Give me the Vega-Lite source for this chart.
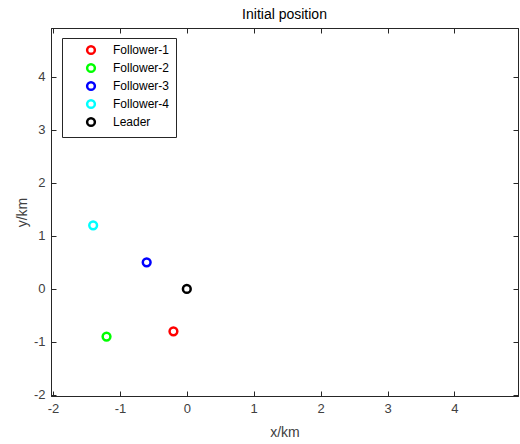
{
  "$schema": "https://vega.github.io/schema/vega-lite/v6.json",
  "width": 467,
  "height": 368,
  "autosize": {"type": "none"},
  "padding": {"left": 51, "top": 28, "right": 2, "bottom": 48},
  "background": "white",
  "config": {
    "font": "Liberation Sans",
    "view": {"stroke": "#262626", "strokeWidth": 1},
    "axis": {"grid": false, "domainColor": "#262626", "tickColor": "#262626", "labelColor": "#404040", "titleColor": "#404040", "labelFontSize": 13, "titleFontSize": 14, "titleFontWeight": "normal", "tickSize": -5, "labelPadding": 11, "domainWidth": 1, "labelExpr": "replace(datum.label, '−', '-')"}
  },
  "title": {"text": "Initial position", "fontSize": 14, "fontWeight": "normal", "color": "#000000", "offset": 6, "font": "Liberation Sans"},
  "data": {"values": [
    {"name": "Follower-1", "x": -0.2, "y": -0.8},
    {"name": "Follower-2", "x": -1.2, "y": -0.9},
    {"name": "Follower-3", "x": -0.6, "y": 0.5},
    {"name": "Follower-4", "x": -1.4, "y": 1.2},
    {"name": "Leader", "x": 0, "y": 0}
  ]},
  "layer": [
    {
      "mark": {"type": "point", "shape": "circle", "filled": false, "strokeWidth": 2.5, "size": 60, "opacity": 1},
      "encoding": {
        "x": {"field": "x", "type": "quantitative", "scale": {"domain": [-2.03, 4.95], "nice": false, "zero": false}, "axis": {"orient": "bottom", "title": "x/km", "values": [-2, -1, 0, 1, 2, 3, 4], "titlePadding": 10}},
        "y": {"field": "y", "type": "quantitative", "scale": {"domain": [-2.02, 4.92], "nice": false, "zero": false}, "axis": {"orient": "left", "title": "y/km", "values": [-2, -1, 0, 1, 2, 3, 4], "titlePadding": 4}},
        "color": {"field": "name", "type": "nominal", "scale": {"domain": ["Follower-1", "Follower-2", "Follower-3", "Follower-4", "Leader"], "range": ["#ff0000", "#00ff00", "#0000ff", "#00ffff", "#000000"]},
          "legend": {"title": null, "orient": "none", "legendX": 11, "legendY": 10, "fillColor": "white", "strokeColor": "#262626", "padding": 6, "labelFontSize": 12, "labelColor": "#000000", "symbolStrokeWidth": 2.5, "symbolSize": 60, "labelOffset": 16, "rowPadding": 0, "symbolOffset": 17, "labelLimit": 200}}
      }
    },
    {
      "mark": {"type": "point", "opacity": 0},
      "encoding": {
        "x": {"field": "x", "type": "quantitative", "axis": {"orient": "top", "labels": false, "title": null, "values": [-2, -1, 0, 1, 2, 3, 4]}},
        "y": {"field": "y", "type": "quantitative", "axis": {"orient": "right", "labels": false, "title": null, "values": [-2, -1, 0, 1, 2, 3, 4]}}
      }
    }
  ],
  "resolve": {"axis": {"x": "independent", "y": "independent"}}
}
